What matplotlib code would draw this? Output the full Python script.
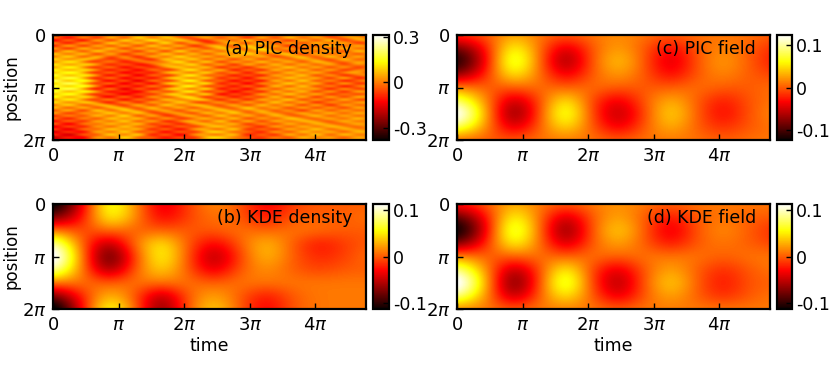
import numpy as np
import matplotlib
matplotlib.use("Agg")
import matplotlib.pyplot as plt

# grids, units of 0.01, rows = position, columns = time
pic_field = [
    [-1, 0, 3, 1, 0, 1, 2, 1, 0, 1, 1, 1, 0],
    [-9, -3, 8, 1, -6, 0, 3, 0, -4, 0, 2, 0, -2],
    [-13, -4, 11, 1, -9, 0, 5, 0, -6, 0, 3, 0, -3],
    [-8, -2, 7, 1, -5, 0, 3, 0, -4, 0, 2, 0, -1],
    [2, 0, 0, 1, 0, 1, 0, 0, 0, 1, 0, 0, 1],
    [9, 2, -7, -1, 7, -1, -5, 0, 4, 0, -3, 0, 1],
    [15, 3, -10, -1, 10, -1, -7, -1, 6, 0, -4, 0, 2],
    [9, 2, -6, 0, 6, 0, -5, 0, 4, 0, -2, 0, 1],
    [0, 0, 0, 1, 1, 1, 0, 1, 1, 1, 0, 1, 1],
]
kde_field = [
    [-2, 0, 3, 1, 0, 1, 2, 1, 0, 1, 1, 1, 1],
    [-9, -3, 7, 1, -6, 0, 3, 0, -3, 0, 1, 0, 0],
    [-13, -4, 10, 1, -9, 0, 5, 0, -5, 0, 2, 0, -2],
    [-8, -2, 7, 1, -6, 0, 3, 0, -3, 0, 1, 0, -1],
    [2, 0, 0, 1, 0, 1, 0, 1, 1, 1, 0, 1, 1],
    [9, 2, -7, -1, 7, -1, -5, 0, 3, 0, -2, 0, 1],
    [14, 3, -10, -1, 10, -1, -7, 0, 5, 0, -3, 0, 0],
    [9, 2, -7, 0, 6, 0, -5, 0, 3, 0, -2, 0, 1],
    [1, 1, 0, 1, 1, 1, 0, 1, 1, 1, 1, 1, 1],
]
kde_density = [
    [-13, -4, 8, 2, -5, -1, 2, 0, -4, -1, 0, 0, 0],
    [-8, -3, 7, 2, -4, -1, 1, 0, -3, 0, 0, 0, 1],
    [1, -1, 1, 0, 0, 0, 0, 1, 0, 1, 1, 0, 0],
    [10, 0, -7, 1, 6, 0, -4, 0, 4, 0, -3, -1, 0],
    [14, 1, -11, -1, 7, 0, -7, -1, 4, 0, -2, -1, 1],
    [10, 1, -8, 0, 5, 0, -5, 0, 2, 0, -1, 0, 0],
    [1, 1, 0, 1, 1, 1, 0, 1, 1, 1, 1, 1, 1],
    [-8, -2, 4, 0, -7, 0, 3, 0, -3, 0, 1, 1, 1],
    [-14, -3, 8, 1, -9, 0, 5, 0, -4, 0, 1, 1, 1],
]
pic_density = [
    [-9, -2, -8, 1, -4, 5, -1, 6, 2, -3, 4, -2, 3, -5, 1, -6, 2, -3, 4, 0, -4, 3, -2, 1],
    [-3, -10, -1, -6, 4, -2, 8, 1, 7, 0, -4, 3, -3, 2, -6, 3, -4, 5, -1, 3, -3, -1, 4, -5],
    [-11, -4, -9, 2, -3, 7, 2, 9, 3, 6, -2, -7, 2, -1, 5, -3, 1, -5, 3, -2, 5, -4, 1, 2],
    [-2, -8, 1, -4, 6, 0, 5, -1, 8, -3, 3, -5, -1, 4, -2, 6, -4, 2, -3, 4, 0, 3, -5, 0],
    [-7, 2, -5, 3, -2, 4, -3, 6, 0, 4, -6, 1, 4, -2, 7, 0, 3, -6, 1, -2, 5, -1, 3, -3],
    [1, -5, 4, -1, 5, -4, 3, 0, 5, -2, 2, -3, 6, 1, 3, 8, -1, 2, -4, 3, -2, 4, 0, 2],
    [-3, 5, -2, 6, 0, 2, -5, 4, -3, 7, -1, 4, 0, 7, 2, 5, 4, -3, 2, -1, 4, -3, 5, -2],
    [6, 1, 5, -3, 3, -6, 1, -2, 6, 0, 5, -2, 5, 2, 8, 0, 2, 5, -4, 3, -1, 2, -2, 4],
    [2, 7, -1, 4, -4, 0, -7, 3, 1, 8, 2, 4, -1, 5, 1, 4, -3, 2, 4, -2, 5, -1, 3, -4],
    [8, 3, 6, 0, -6, -3, -2, -6, 6, 3, 7, -1, 3, -3, 4, -2, 3, -1, 3, 1, -3, 4, -1, 2],
    [4, 10, 2, -5, -2, -9, -4, -1, 2, 9, 1, 6, -4, 2, -1, 5, 0, 4, -2, 5, 0, -2, 3, 0],
    [10, 5, 8, 1, -8, -5, -10, -5, 5, 4, 8, -2, 2, -6, 3, -2, 5, -1, 4, -1, 3, -4, 1, -3],
    [6, 12, 3, -6, -3, -11, -6, -8, 1, 7, 3, 5, -6, -2, -7, 2, 1, 6, 0, 3, -3, 1, -5, 2],
    [12, 7, 9, -1, -9, -6, -12, -3, -5, 3, 9, 0, 3, -8, -3, -6, 4, 0, 5, -2, 2, -5, 0, -2],
    [9, 14, 5, -7, -4, -12, -8, -9, 2, 6, 2, 7, -4, -1, -9, 1, -2, 5, 1, 4, -4, -1, 3, -6],
    [15, 8, 11, 0, -10, -5, -13, -4, -6, 4, 10, -1, -2, -9, -5, -8, 3, 1, 6, -3, 1, -6, -2, 1],
    [10, 16, 6, -8, -3, -12, -7, -10, 1, 8, 3, 6, -7, -4, -11, 0, -1, 6, 2, 3, -5, 2, -7, -1],
    [17, 9, 13, -2, -11, -6, -14, -3, -5, 5, 11, -2, -3, -11, -6, -9, 4, 0, 7, -2, 0, -7, -3, 2],
    [11, 18, 7, -6, -4, -13, -6, -11, 3, 7, 4, 8, -8, -5, -12, -1, 0, 7, 1, 4, -6, 1, -6, -2],
    [16, 10, 14, -1, -12, -7, -11, -2, -6, 6, 10, -3, -4, -10, -4, -8, 5, -1, 6, -3, -1, -8, -2, 3],
    [12, 17, 5, -9, -3, -14, -5, -9, 2, 8, 2, 7, -9, -6, -11, 1, -2, 5, 2, 2, -7, 0, -5, 0],
    [15, 8, 12, 1, -10, -9, -12, -1, -3, 5, 9, -4, -3, -12, -5, -7, 4, 0, 5, -4, 1, -6, 2, -2],
    [9, 14, 4, -7, -6, -13, -7, -6, 4, 7, 1, 6, -10, -6, -9, 2, -1, 6, 0, 3, -5, -2, -4, 1],
    [13, 6, 9, -3, -11, -4, -10, 1, -2, 6, 7, -5, -2, -9, -3, -4, 5, -2, 4, -5, 2, -4, 3, 0],
    [5, 11, 2, -5, -2, -10, -3, -5, 5, 2, 6, 3, -7, -1, -7, 3, 1, 6, -3, 1, -4, 3, -3, -2],
    [9, 3, 7, 0, -8, 0, -7, 2, 0, 7, -1, -3, 1, -5, 2, -2, 6, -1, 3, -6, 0, -2, 2, 3],
    [2, 7, -1, 4, 1, -5, 3, -3, 6, 1, 5, 2, -3, 3, -3, 5, 0, 4, -4, 2, -6, 2, -1, 1],
    [5, -1, 4, -2, 5, 2, -2, 5, -1, 4, -2, 5, 1, -1, 6, 0, 3, -3, 2, -3, 1, -4, 3, -2],
    [-2, 3, -4, 6, 0, 7, 1, -1, 3, -3, 4, 0, 6, 2, 1, 4, -2, 1, -5, 3, -2, 2, -1, 4],
    [2, -5, 1, 2, 7, 1, 6, -3, -2, 2, -3, 5, 1, 7, -1, 3, 2, -2, 3, 0, 4, -1, 4, 0],
    [-6, -1, -3, 5, 1, 8, -2, 3, -6, -1, 3, -2, 6, 0, 4, -2, 5, 0, -1, 5, -1, 3, 0, 3],
    [-3, -8, 0, -2, 6, 3, 5, -4, 1, -5, 0, 4, 0, 5, -3, 2, -1, 6, 2, -1, 3, 0, 5, -2],
    [-10, -4, -6, 3, 1, 7, -1, 2, -7, -2, 4, -1, 6, -2, 3, -4, 3, 1, 5, 2, -2, 4, 1, 3],
    [-5, -12, -2, 0, 5, 2, 5, -5, -3, -8, 1, 5, 2, 4, -5, 0, -3, 4, 0, 5, 1, -1, 4, 0],
    [-13, -7, -8, 2, 0, 6, 0, -2, -9, -4, -5, 3, 6, 1, -2, -7, 2, -1, 4, 1, 5, 2, -1, 4],
    [-8, -14, -3, -1, 6, 3, 4, -7, -4, -10, 0, 4, 1, 6, -6, -3, -5, 3, 1, 6, 0, 4, 2, 1],
    [-15, -9, -10, 3, 1, 7, -2, -3, -11, -5, -6, 5, 7, 0, -3, -8, 1, -2, 5, 2, 4, -1, 5, 2],
    [-10, -16, -5, -2, 7, 2, 6, -8, -5, -12, -1, 3, 2, 5, -8, -4, -6, 4, 0, 6, -1, 5, 1, 3],
    [-17, -11, -12, 2, 0, 8, -1, -4, -10, -6, -7, 6, 8, 1, -4, -7, -1, -3, 5, 1, 3, -2, 4, 0],
    [-12, -15, -7, -1, 5, 3, 4, -7, -6, -11, -2, 4, 3, 6, -7, -5, -4, 2, -1, 5, 0, 3, 2, -1],
]

panels = [
    ("(a) PIC density", pic_density, (-0.38, 0.31), [-0.3, 0, 0.3], ["-0.3", "0", "0.3"]),
    ("(b) KDE density", kde_density, (-0.112, 0.112), [-0.1, 0, 0.1], ["-0.1", "0", "0.1"]),
    ("(c) PIC field", pic_field, (-0.123, 0.124), [-0.1, 0, 0.1], ["-0.1", "0", "0.1"]),
    ("(d) KDE field", kde_field, (-0.112, 0.112), [-0.1, 0, 0.1], ["-0.1", "0", "0.1"]),
]
time_ticks = [0, np.pi, 2 * np.pi, 3 * np.pi, 4 * np.pi]
time_labels = ["0", r"$\pi$", r"$2\pi$", r"$3\pi$", r"$4\pi$"]
pos_ticks = [0, np.pi, 2 * np.pi]
pos_labels = ["0", r"$\pi$", r"$2\pi$"]
t_end = 4.77 * np.pi
t_grid_start = 0.05 * np.pi
t_grid_end = 4.85 * np.pi

W, H = 830.0, 373.0
fig = plt.figure(figsize=(W / 100, H / 100), dpi=100)


def rect(x0, x1, y0, y1):
    return [x0 / W, 1 - y1 / H, (x1 - x0) / W, (y1 - y0) / H]


lefts = {0: (53, 366, 372.5, 388.5), 1: (457, 770, 776.5, 792)}
tops = {0: (35, 140), 1: (204, 309)}

for i, (name, grid, lim, cticks, clabels) in enumerate(panels):
    col, row = i // 2, i % 2
    x0, x1, c0, c1 = lefts[col]
    y0, y1 = tops[row]
    z = np.array(grid) / 100.0
    ny, nx = z.shape
    dt = (t_grid_end - t_grid_start) / (nx - 1) / 2
    dy = 2 * np.pi / (ny - 1) / 2
    ax = fig.add_axes(rect(x0, x1, y0, y1))
    im = ax.imshow(z, cmap="hot", vmin=lim[0], vmax=lim[1], aspect="auto",
                   interpolation="lanczos" if i == 0 else "bicubic",
                   extent=(t_grid_start - dt, t_grid_end + dt, 2 * np.pi + dy, -dy))
    ax.set_xlim(0, t_end)
    ax.set_ylim(2 * np.pi, 0)
    ax.set_xticks(time_ticks)
    ax.set_xticklabels(time_labels, fontsize=13)
    ax.set_yticks(pos_ticks)
    ax.set_yticklabels(pos_labels, fontsize=13)
    ax.tick_params(direction="in", length=4, width=1, pad=5, colors="black")
    for s in ax.spines.values():
        s.set_linewidth(1.6)
    ax.text(0.955, 0.87, name, transform=ax.transAxes, ha="right", va="center", fontsize=12.5)
    if col == 0:
        ax.set_ylabel("position", fontsize=12, labelpad=1)
    if row == 1:
        ax.set_xlabel("time", fontsize=12.5, labelpad=2)

    cax = fig.add_axes(rect(c0, c1, y0, y1))
    cb = fig.colorbar(im, cax=cax)
    cb.set_ticks(cticks)
    cb.set_ticklabels(clabels)
    cb.ax.tick_params(direction="in", length=4, width=1, pad=3, labelsize=12.5)
    cb.outline.set_linewidth(1.6)

fig.savefig("out.png", dpi=100)
